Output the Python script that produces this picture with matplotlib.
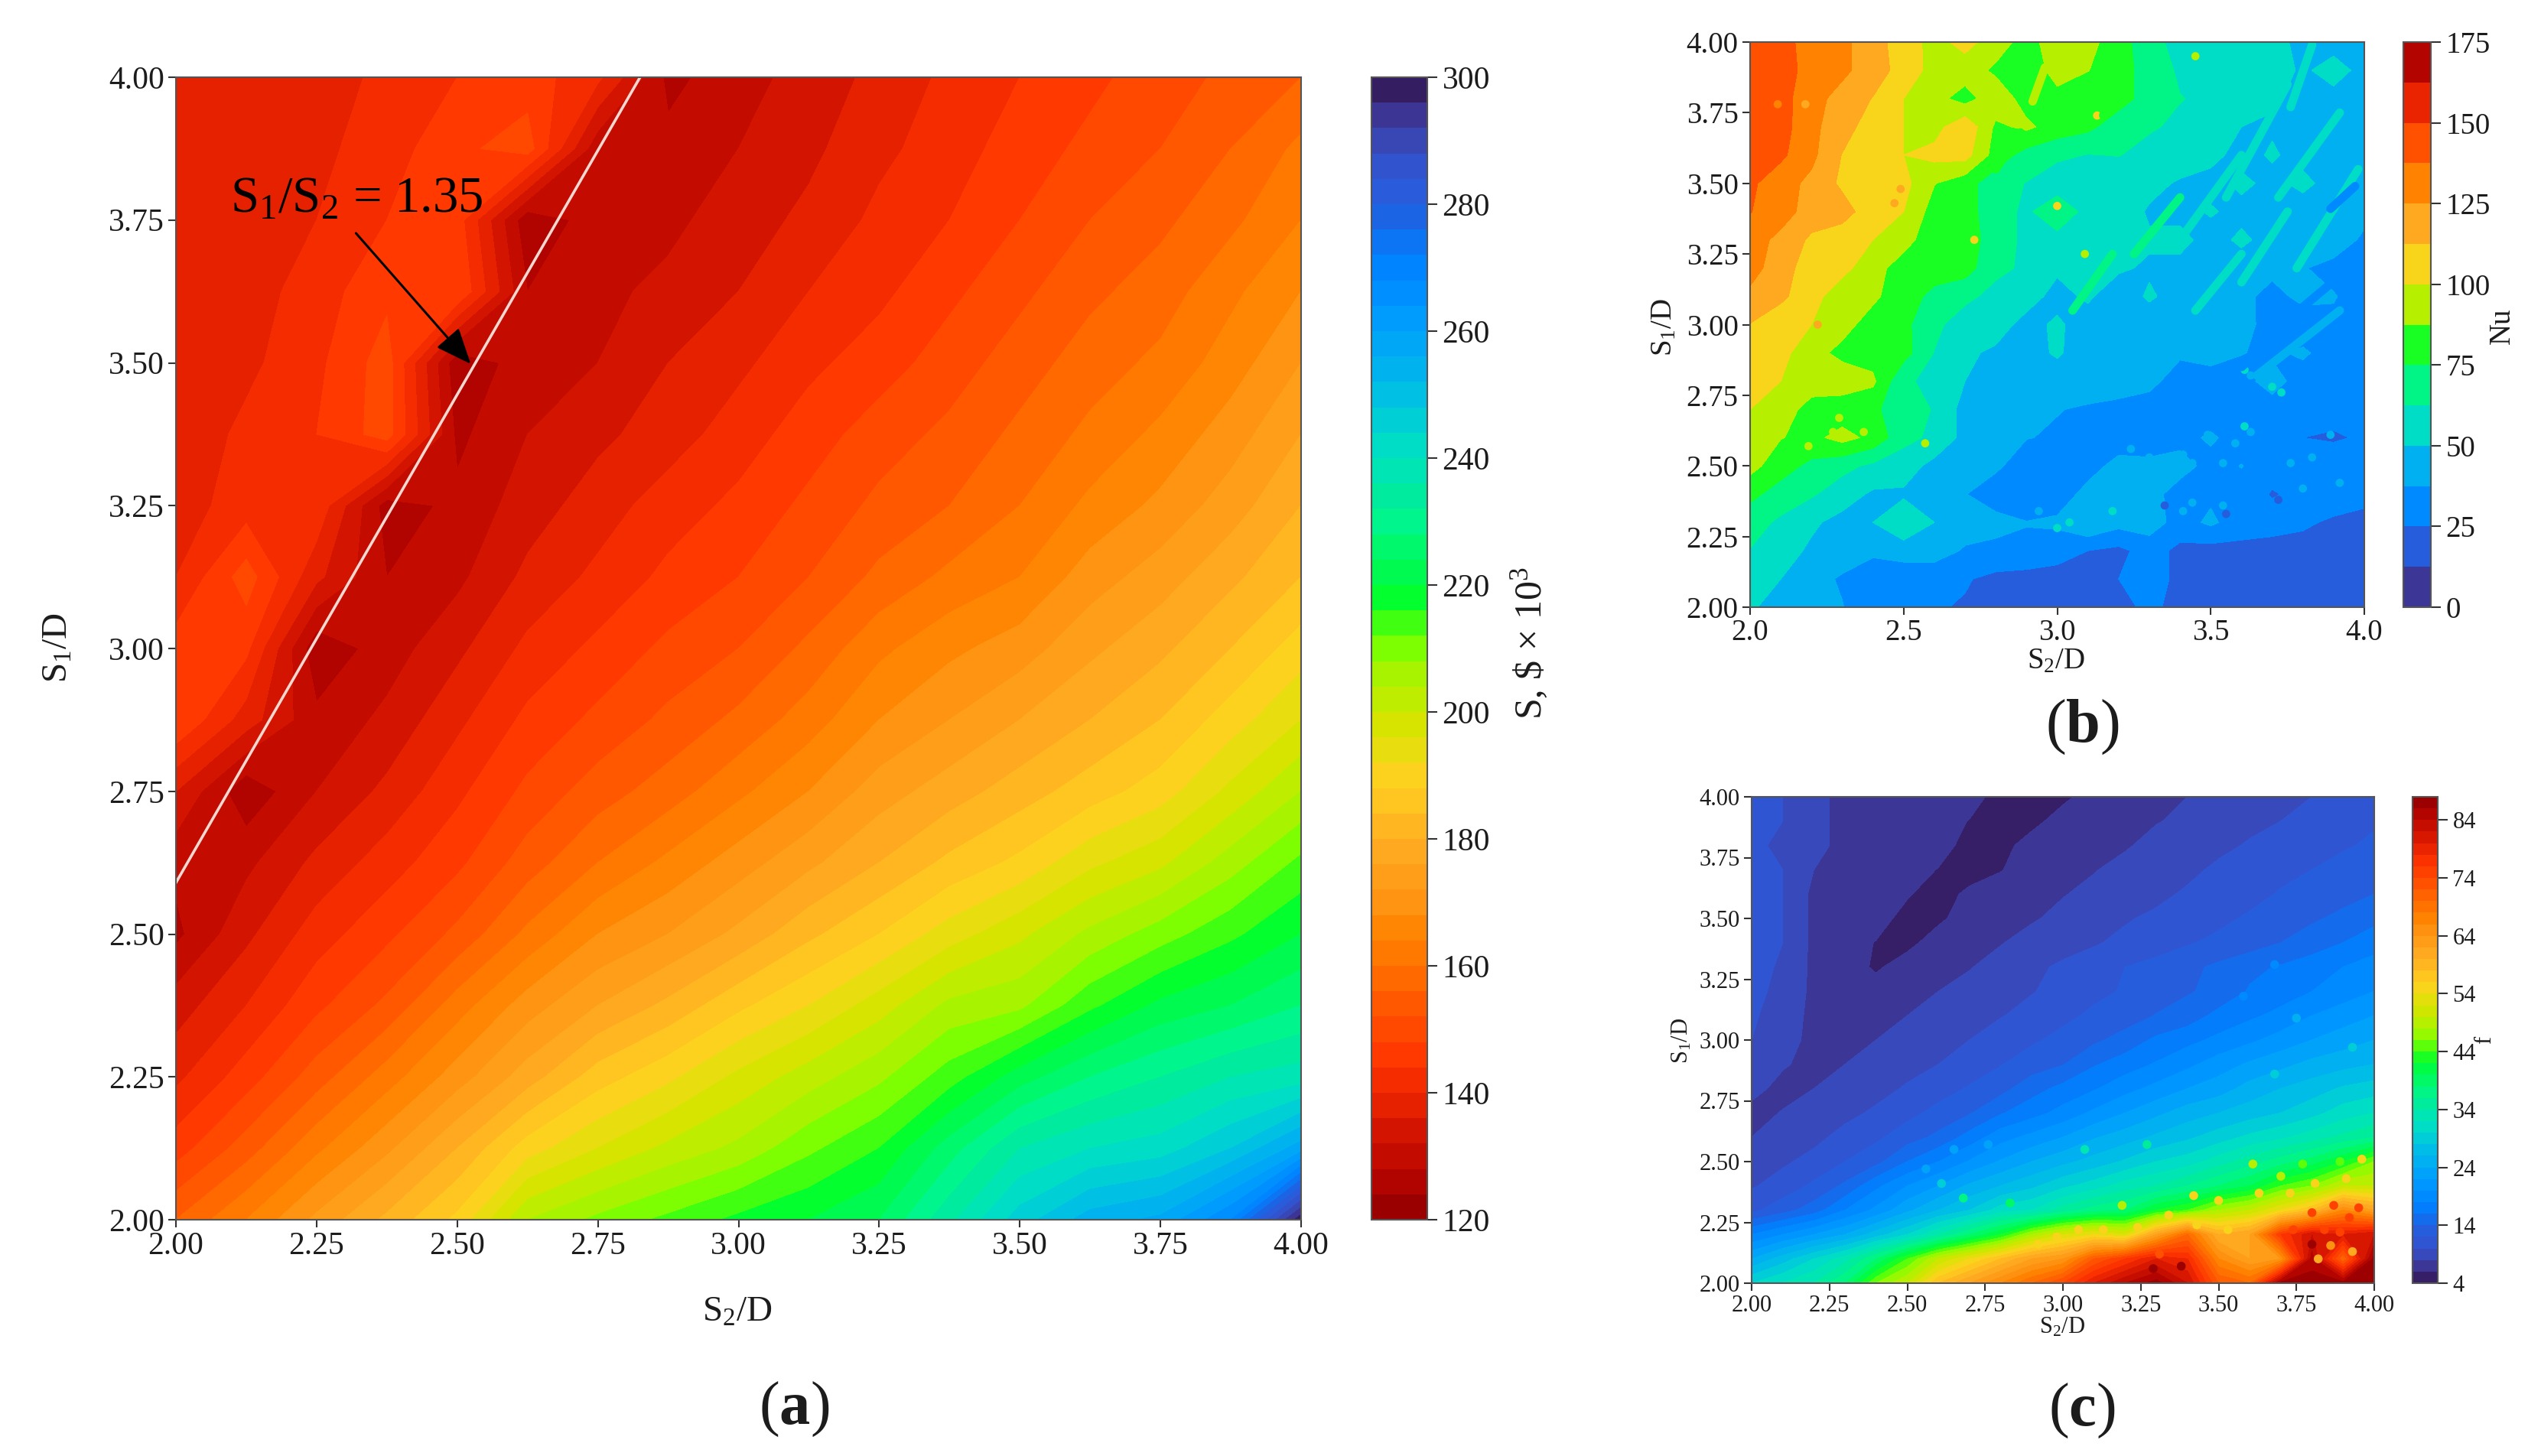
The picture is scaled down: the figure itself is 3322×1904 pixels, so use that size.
#!/usr/bin/env python3
"""Contour maps of cost, Nu and f over the S2/D, S1/D pitch plane."""

import matplotlib

matplotlib.use("Agg")
import matplotlib.pyplot as plt
import numpy as np
from matplotlib.colors import LinearSegmentedColormap

WIDTH = 3322
HEIGHT = 1904

plt.rcParams["font.family"] = ["Liberation Serif", "DejaVu Serif"]
plt.rcParams["mathtext.fontset"] = "custom"
plt.rcParams["mathtext.rm"] = "Liberation Serif"
plt.rcParams["mathtext.bf"] = "Liberation Serif:bold"
plt.rcParams["mathtext.default"] = "regular"

# Band colours of the cost colourbar, from 120 up to 300.
BAND_COLOURS = [
    "#900000", "#a80000", "#bc0800", "#cc1000", "#de1c00", "#f02800", "#ff3400",
    "#ff4400", "#ff5400", "#ff6400", "#ff7400", "#ff8400", "#ff9010", "#ff9c18",
    "#ffa820", "#ffb420", "#ffc420", "#ffd020", "#e8dc10", "#d8e400", "#c0ec00",
    "#a8f400", "#80ff00", "#40ff10", "#00ff30", "#00fa50", "#00f870", "#00f490",
    "#00eaa0", "#00e4b8", "#00dcc8", "#00ccd8", "#00bce8", "#00b0f0", "#00a4f8",
    "#0098ff", "#008cff", "#0080ff", "#1070f0", "#2060e0", "#2e58d8", "#3450c8",
    "#3c40a8", "#3c2c80", "#30124c",
]

# Panel (a): one row per S2/D, running along S1/D.
COST_S2 = [2.0 + 0.125 * i for i in range(17)]
COST_S1 = [2.0 + 0.125 * i for i in range(17)]
COST = [
    [156, 146, 139, 134, 127, 129, 136, 148, 146, 140, 138, 137, 137, 137, 137, 136, 136],
    [164, 154, 146, 140, 135, 131, 125, 138, 145, 150, 142, 141, 139, 138, 137, 137, 137],
    [173, 163, 154, 147, 142, 137, 132, 129, 125, 137, 143, 144, 143, 142, 140, 139, 138],
    [181, 171, 162, 153, 147, 142, 137, 133, 130, 128, 126, 150, 150, 147, 144, 142, 141],
    [189, 180, 170, 162, 153, 147, 143, 139, 135, 131, 129, 127, 125, 148, 146, 147, 144],
    [204, 190, 178, 170, 161, 154, 149, 145, 141, 137, 134, 132, 130, 128, 125, 150, 146],
    [209, 196, 186, 176, 168, 160, 154, 149, 145, 141, 138, 135, 132, 131, 130, 129, 141],
    [213, 201, 191, 181, 172, 165, 158, 153, 149, 145, 142, 138, 136, 133, 131, 129, 127],
    [217, 205, 197, 187, 177, 170, 163, 157, 152, 148, 145, 142, 139, 136, 134, 132, 130],
    [220, 211, 202, 192, 183, 175, 168, 162, 157, 152, 149, 146, 143, 140, 137, 135, 134],
    [224, 216, 207, 198, 188, 180, 174, 168, 163, 157, 153, 150, 146, 143, 141, 139, 137],
    [235, 226, 214, 205, 194, 185, 178, 172, 167, 161, 156, 153, 150, 147, 144, 142, 141],
    [246, 236, 222, 207, 199, 189, 182, 176, 170, 164, 160, 157, 154, 151, 148, 146, 144],
    [254, 240, 228, 215, 205, 195, 186, 180, 175, 170, 165, 161, 158, 155, 152, 149, 147],
    [257, 242, 232, 221, 210, 199, 190, 184, 179, 174, 169, 165, 161, 158, 155, 152, 150],
    [268, 248, 236, 224, 215, 206, 197, 190, 184, 179, 174, 170, 166, 163, 159, 156, 153],
    [299, 258, 238, 228, 220, 213, 204, 196, 190, 184, 180, 176, 172, 168, 164, 161, 156],
]
OPTIMAL_S2 = [2.0, 2.825]
OPTIMAL_S1 = [2.59, 4.0]

# Panel (b): one row per S1/D from 4.0 down to 2.0, running along S2/D.
NU_S2 = [2.0 + 0.1 * i for i in range(21)]
NU_S1 = [4.0 - 0.1 * i for i in range(21)]
NU = [
    [144, 144, 130, 128, 118, 106, 96, 104, 94, 82, 95, 92, 80, 68, 57, 57, 57, 56, 45, 45, 45],
    [144, 144, 132, 128, 118, 108, 95, 94, 85, 80, 92, 88, 78, 72, 60, 60, 57, 56, 48, 55, 46],
    [145, 142, 130, 120, 112, 100, 92, 82, 96, 82, 84, 76, 80, 70, 63, 60, 55, 52, 46, 46, 44],
    [145, 143, 128, 118, 106, 100, 95, 110, 85, 90, 82, 78, 68, 64, 60, 55, 50, 48, 44, 42, 44],
    [143, 140, 128, 112, 106, 100, 104, 105, 82, 70, 65, 62, 63, 58, 60, 55, 44, 52, 44, 48, 40],
    [140, 130, 122, 110, 106, 104, 88, 80, 68, 62, 55, 52, 52, 55, 48, 44, 54, 45, 55, 42, 38],
    [138, 130, 120, 118, 105, 100, 82, 80, 68, 60, 72, 58, 60, 48, 44, 52, 44, 50, 40, 42, 40],
    [130, 122, 110, 105, 100, 92, 80, 82, 68, 60, 58, 55, 62, 52, 56, 42, 54, 42, 44, 42, 36],
    [130, 118, 106, 104, 92, 82, 80, 80, 66, 60, 52, 60, 52, 48, 44, 46, 40, 42, 38, 35, 32],
    [122, 115, 105, 92, 90, 80, 72, 66, 58, 55, 46, 52, 42, 52, 44, 44, 42, 32, 42, 38, 34],
    [112, 105, 100, 92, 82, 78, 66, 55, 55, 46, 52, 44, 50, 42, 46, 38, 44, 30, 28, 36, 32],
    [108, 104, 92, 84, 82, 80, 62, 52, 48, 44, 52, 42, 48, 44, 40, 44, 38, 35, 40, 30, 28],
    [105, 100, 92, 95, 90, 64, 60, 50, 45, 48, 42, 44, 40, 42, 30, 30, 32, 44, 30, 30, 28],
    [100, 92, 84, 80, 78, 66, 62, 45, 44, 40, 38, 36, 36, 30, 30, 28, 30, 30, 28, 28, 28],
    [95, 88, 84, 92, 84, 66, 60, 46, 42, 38, 36, 28, 30, 32, 32, 40, 30, 28, 25, 24, 26],
    [92, 80, 72, 66, 60, 56, 46, 42, 40, 30, 30, 32, 42, 40, 44, 32, 38, 30, 32, 30, 28],
    [78, 70, 64, 56, 48, 48, 44, 38, 30, 26, 30, 42, 38, 44, 30, 35, 32, 24, 28, 36, 28],
    [68, 60, 52, 46, 50, 60, 50, 44, 42, 38, 40, 50, 42, 44, 32, 40, 30, 30, 28, 22, 22],
    [62, 55, 48, 44, 40, 44, 44, 36, 34, 35, 30, 25, 22, 30, 22, 20, 22, 20, 18, 18, 18],
    [55, 50, 42, 36, 30, 28, 28, 26, 22, 20, 20, 20, 25, 34, 20, 18, 18, 18, 18, 18, 18],
    [52, 44, 40, 38, 28, 26, 26, 24, 22, 18, 18, 18, 18, 30, 18, 18, 18, 18, 18, 18, 18],
]

# Diagonal streaks in panel (b).
NU_STREAK_S2 = [
    [3.55, 3.75], [3.72, 3.92], [3.40, 3.60], [3.78, 3.98], [3.60, 3.75], [3.45, 3.60],
    [3.70, 3.95], [3.60, 3.80], [3.07, 3.22], [3.89, 3.97], [3.65, 3.92], [3.15, 3.20],
    [2.92, 2.96], [3.76, 3.83], [3.25, 3.40], [3.05, 3.18], [2.80, 2.88],
]
NU_STREAK_S1 = [
    [3.45, 3.85], [3.45, 3.75], [3.30, 3.60], [3.20, 3.55], [3.15, 3.40], [3.05, 3.25],
    [2.97, 3.20], [2.85, 3.03], [2.87, 3.00], [3.41, 3.49], [2.82, 3.05], [3.74, 3.91],
    [3.79, 3.91], [3.77, 3.99], [3.25, 3.45], [3.05, 3.25], [3.55, 3.68],
]
NU_STREAK_VALUE = [
    56.25, 56.25, 56.25, 56.25, 56.25, 56.25, 31.25, 31.25, 43.75, 31.25, 43.75, 81.25,
    93.75, 56.25, 68.75, 68.75, 81.25,
]

# Small isolated spots in panel (b).
NU_SPOT_S2 = [
    3.24, 3.30, 3.36, 3.41, 3.44, 3.49, 3.54, 3.61, 3.63, 3.58, 3.76, 3.83, 3.80, 3.89,
    3.92, 3.30, 3.34, 3.15, 3.09, 3.18, 3.04, 2.94, 3.00, 3.54, 3.44, 3.41, 3.70, 3.73,
    3.63, 3.61, 3.00, 3.13, 3.45, 3.09, 2.67, 2.73, 2.57, 2.19, 2.27, 2.37, 2.29, 2.04,
    2.49, 2.47, 2.22, 2.18, 2.09, 3.35, 3.55, 3.72,
]
NU_SPOT_S1 = [
    2.56, 2.53, 2.51, 2.54, 2.51, 2.61, 2.51, 2.64, 2.62, 2.58, 2.51, 2.53, 2.42, 2.61,
    2.44, 2.44, 2.37, 2.40, 2.37, 2.34, 2.30, 2.34, 2.28, 2.36, 2.37, 2.34, 2.78, 2.76,
    2.82, 2.84, 3.42, 3.74, 3.95, 3.25, 3.35, 3.30, 2.58, 2.57, 2.62, 2.62, 2.67, 3.45,
    3.48, 3.43, 3.00, 3.78, 3.78, 2.36, 2.33, 2.38,
]
NU_SPOT_VALUE = [
    43.75, 43.75, 43.75, 43.75, 43.75, 43.75, 43.75, 56.25, 43.75, 43.75, 43.75, 43.75,
    43.75, 43.75, 43.75, 43.75, 43.75, 43.75, 43.75, 56.25, 56.25, 43.75, 56.25, 43.75,
    43.75, 43.75, 56.25, 56.25, 43.75, 56.25, 106.25, 106.25, 93.75, 93.75, 81.25, 106.25,
    93.75, 93.75, 93.75, 93.75, 93.75, 131.25, 118.75, 118.75, 118.75, 118.75, 131.25,
    18.75, 18.75, 18.75,
]

# Panel (c): same layout as panel (b).
FRICTION_S2 = [2.0 + 0.1 * i for i in range(21)]
FRICTION_S1 = [4.0 - 0.1 * i for i in range(21)]
FRICTION = [
    [11, 10, 9, 7, 7, 7, 7, 7, 5, 5, 5.5, 7, 7, 7, 8, 8.5, 9, 9.5, 10, 10.5, 11],
    [11, 10, 9, 7, 7, 7, 7, 5.9, 5, 5.3, 7, 7, 7, 7.9, 8.4, 8.9, 9.5, 10, 10.5, 11, 11.8],
    [10.5, 9.5, 9, 7, 7, 7, 6.9, 5.2, 5.2, 7, 7, 7, 7.8, 8.6, 9.1, 9.5, 10.2, 10.8, 11.3, 11.8, 12.3],
    [10.5, 10, 8, 7, 7, 7, 5.9, 5, 5.9, 7, 7, 7.9, 8.6, 9, 9.5, 10.4, 11, 11.4, 12, 12.6, 13],
    [10.5, 10, 7.5, 7, 7, 6.2, 5, 6.5, 7, 7, 7.9, 8.5, 8.9, 9.5, 10.3, 10.8, 11.3, 12.2, 12.7, 13.3, 14],
    [10.5, 10, 7.5, 7, 6.8, 5.3, 5.6, 7, 7, 7.8, 8.5, 9, 9.8, 10.4, 11, 11.5, 12.3, 13, 13.7, 14.5, 15.5],
    [10.5, 10, 7.5, 7, 5.9, 5.4, 7, 7, 7.9, 8.7, 9.3, 9.8, 10.5, 11, 11.8, 12.5, 13, 14, 15, 16, 17],
    [10.5, 9.8, 7.5, 7, 5.7, 7, 7, 7.9, 8.7, 9.6, 10.3, 11, 12, 12.7, 13.5, 14.4, 15.5, 16.2, 17, 18, 19],
    [10.5, 9.5, 7.5, 7, 6.9, 7, 8, 8.6, 9.2, 9.9, 10.6, 11.5, 12.2, 13, 13.8, 14.6, 16.2, 17, 18, 19, 20],
    [10.3, 9, 7.5, 7, 7.5, 8, 8.6, 9.2, 9.9, 10.6, 11.5, 12.4, 13, 14.1, 14.9, 16.6, 17.6, 18.6, 20, 21, 22],
    [10, 8.7, 7.5, 7.4, 8, 8.7, 9.3, 10, 10.9, 11.7, 12.6, 13.6, 14.8, 16.4, 17.4, 18.5, 19.6, 20.8, 22, 23, 24],
    [9.5, 8.2, 7.4, 8, 8.6, 9.4, 10, 10.9, 11.9, 13, 13.9, 15.8, 17, 18.2, 19.5, 21, 22.3, 23.4, 24.6, 25.3, 26],
    [8.6, 7.4, 8, 8.8, 9.4, 10.2, 11.2, 12.2, 13.3, 15.2, 16.6, 17.8, 19.3, 20.6, 22, 23, 24.8, 26, 27, 28.3, 29],
    [7.4, 8.1, 8.9, 9.5, 10.3, 11.4, 12.6, 13.8, 15.8, 17.2, 18.7, 20.4, 22, 23.5, 25, 26, 27, 28, 29.3, 31, 32],
    [8, 8.8, 9.5, 10.6, 11.6, 13.1, 14.5, 16.8, 19.2, 20.6, 22, 23.8, 25, 26.4, 27.6, 29, 30.5, 31.6, 33, 34.5, 36],
    [9.2, 9.7, 10.6, 12, 13.4, 16, 18, 20.2, 22.2, 24, 25.4, 26.8, 28.3, 30, 31, 33, 35, 37, 39, 42, 46],
    [9.8, 10.8, 12.4, 14.4, 17.5, 20, 22, 24.4, 26, 27.5, 29.5, 31, 33, 34, 36, 38, 40, 44, 46, 50, 50],
    [11.5, 13.2, 15, 18, 20.5, 23.5, 26, 28, 31, 32, 35, 37, 38, 42, 44, 48, 50, 54, 58, 66, 62],
    [18, 20, 22, 24, 27, 30, 34, 38, 42, 48, 52, 54, 52, 62, 70, 60, 62, 76, 82, 80, 82],
    [24, 27, 30, 33, 38, 44, 50, 54, 58, 62, 64, 72, 76, 80, 78, 66, 62, 64, 85, 70, 87],
    [30, 32, 34, 38, 46, 50, 58, 62, 66, 70, 74, 80, 84, 87, 82, 72, 70, 87, 87, 87, 87],
]

# Small isolated spots in panel (c).
FRICTION_SPOT_S2 = [
    2.92, 2.98, 3.05, 3.13, 3.24, 3.34, 3.43, 3.53, 3.42, 3.50, 3.63, 3.73, 3.81, 3.91,
    3.96, 3.19, 3.61, 3.70, 3.77, 3.89, 3.74, 3.80, 3.87, 3.92, 3.84, 3.95, 3.89, 3.80,
    3.82, 3.93, 3.86, 3.29, 3.38, 3.31, 3.58, 3.68, 3.18, 3.75, 3.93, 3.68, 2.65, 2.76,
    2.56, 2.61, 3.07, 3.27, 2.68, 2.83,
]
FRICTION_SPOT_S1 = [
    2.16, 2.19, 2.22, 2.22, 2.23, 2.28, 2.24, 2.22, 2.36, 2.34, 2.37, 2.37, 2.41, 2.43,
    2.51, 2.32, 2.49, 2.44, 2.49, 2.50, 2.22, 2.29, 2.32, 2.27, 2.22, 2.31, 2.21, 2.16,
    2.10, 2.13, 2.155, 2.06, 2.07, 2.12, 3.18, 3.31, 3.17, 3.09, 2.97, 2.86, 2.55, 2.57,
    2.47, 2.41, 2.55, 2.57, 2.35, 2.33,
]
FRICTION_SPOT_VALUE = [
    55, 55, 55, 55, 55, 55, 55, 55, 55, 55, 55, 55, 55, 55, 55, 49, 49, 49, 45, 45, 75,
    75, 75, 75, 75, 75, 75, 87, 61, 61, 65, 87, 87, 73, 19, 19, 13, 25, 29, 29, 23, 23,
    23, 29, 33, 35, 37, 39,
]

cost_ticks = list(range(120, 301, 20))
nu_ticks = list(range(0, 176, 25))
friction_ticks = list(range(4, 85, 10))
s1_ticks = [2.00, 2.25, 2.50, 2.75, 3.00, 3.25, 3.50, 3.75, 4.00]


def pixel_axes(fig, left, top, right, bottom):
    """Add axes from a box given in image pixels."""
    return fig.add_axes(
        [left / WIDTH, 1 - bottom / HEIGHT, (right - left) / WIDTH, (bottom - top) / HEIGHT]
    )


def pixel_text(fig, x, y, label, size, rotation=0):
    """Write centred text at a position given in image pixels."""
    fig.text(
        x / WIDTH,
        1 - y / HEIGHT,
        label,
        fontsize=size,
        rotation=rotation,
        ha="center",
        va="center",
        color="#1c1c1c",
    )


def contour_panel(fig, box, cbar_box, data, levels, ticks, xticks, xfmt, size, cmap):
    """Draw one filled contour panel with its colourbar."""
    xs, ys, values = data
    axis = pixel_axes(fig, *box)
    filled = axis.contourf(xs, ys, values, levels=levels, cmap=cmap, vmin=levels[0], vmax=levels[-1])
    axis.set_xlim(2, 4)
    axis.set_ylim(2, 4)
    axis.set_xticks(xticks, [xfmt.format(v) for v in xticks])
    axis.set_yticks(s1_ticks, [f"{v:.2f}" for v in s1_ticks])
    axis.tick_params(labelsize=size, length=7, width=1.5, color="#333333", labelcolor="#1c1c1c", pad=4)
    for spine in axis.spines.values():
        spine.set_color("#555555")
        spine.set_linewidth(1.5)

    cax = pixel_axes(fig, *cbar_box)
    bar = fig.colorbar(filled, cax=cax)
    bar.set_ticks(ticks, labels=[str(v) for v in ticks])
    bar.ax.tick_params(labelsize=size, length=9, width=1.5, color="#333333", labelcolor="#1c1c1c", pad=5)
    bar.outline.set_edgecolor("#555555")
    bar.outline.set_linewidth(1.5)
    return axis, filled


def main():
    fig = plt.figure(figsize=(WIDTH / 100, HEIGHT / 100), dpi=100, facecolor="white")
    cost_cmap = LinearSegmentedColormap.from_list("cost", BAND_COLOURS, N=512)
    rate_cmap = cost_cmap.reversed()

    # Panel (a): cost with the optimal pitch ratio line.
    cost_axis, _ = contour_panel(
        fig,
        (230, 101, 1701, 1595),
        (1793, 101, 1866, 1595),
        (COST_S2, COST_S1, np.array(COST).T),
        np.arange(120, 301, 4),
        cost_ticks,
        s1_ticks,
        "{:.2f}",
        30,
        cost_cmap,
    )
    cost_axis.plot(OPTIMAL_S2, OPTIMAL_S1, color="#f2d8d0", linewidth=2.6)
    cost_axis.text(2.097, 3.785, "S$_1$/S$_2$ = 1.35", fontsize=48, color="black", va="center", ha="left")
    cost_axis.annotate(
        "",
        xy=(2.524, 3.498),
        xytext=(2.32, 3.727),
        arrowprops={
            "arrowstyle": "-|>,head_length=1.2,head_width=0.5",
            "mutation_scale": 24,
            "color": "black",
            "linewidth": 2.2,
            "shrinkA": 0,
            "shrinkB": 0,
        },
    )
    pixel_text(fig, 964, 1716, "S$_2$/D", 34)
    pixel_text(fig, 76, 847, "S$_1$/D", 34, rotation=90)
    pixel_text(fig, 2000, 841, "S, \\$ × 10$^3$", 36, rotation=90)
    pixel_text(fig, 1038, 1843, "($\\mathbf{a}$)", 58)

    # Panel (b): Nusselt number.
    nu_axis, nu_filled = contour_panel(
        fig,
        (2288, 55, 3091, 794),
        (3142, 55, 3178, 794),
        (NU_S2, NU_S1, np.array(NU)),
        np.arange(0, 175.1, 12.5),
        nu_ticks,
        [2.0, 2.5, 3.0, 3.5, 4.0],
        "{:.1f}",
        28,
        rate_cmap,
    )
    for s2_pair, s1_pair, value in zip(NU_STREAK_S2, NU_STREAK_S1, NU_STREAK_VALUE):
        nu_axis.plot(
            s2_pair,
            s1_pair,
            color=rate_cmap(nu_filled.norm(value)),
            linewidth=8,
            solid_capstyle="round",
        )
    nu_axis.scatter(
        NU_SPOT_S2,
        NU_SPOT_S1,
        c=NU_SPOT_VALUE,
        cmap=rate_cmap,
        norm=nu_filled.norm,
        s=60,
        linewidths=0,
    )
    pixel_text(fig, 2688, 865, "S$_2$/D", 28)
    pixel_text(fig, 2176, 428, "S$_1$/D", 28, rotation=90)
    pixel_text(fig, 3271, 426, "Nu", 28, rotation=90)
    pixel_text(fig, 2722, 951, "($\\mathbf{b}$)", 58)

    # Panel (c): friction factor.
    friction_axis, friction_filled = contour_panel(
        fig,
        (2290, 1042, 3104, 1678),
        (3154, 1042, 3187, 1678),
        (FRICTION_S2, FRICTION_S1, np.array(FRICTION)),
        np.arange(4, 88.1, 2),
        friction_ticks,
        s1_ticks,
        "{:.2f}",
        22,
        rate_cmap,
    )
    friction_axis.scatter(
        FRICTION_SPOT_S2,
        FRICTION_SPOT_S1,
        c=FRICTION_SPOT_VALUE,
        cmap=rate_cmap,
        norm=friction_filled.norm,
        s=70,
        linewidths=0,
    )
    pixel_text(fig, 2696, 1736, "S$_2$/D", 22)
    pixel_text(fig, 2199, 1361, "S$_1$/D", 22, rotation=90)
    pixel_text(fig, 3249, 1360, "f", 22, rotation=90)
    pixel_text(fig, 2722, 1845, "($\\mathbf{c}$)", 58)

    fig.savefig("out.png", dpi=100, facecolor="white")
    plt.close(fig)


if __name__ == "__main__":
    main()
